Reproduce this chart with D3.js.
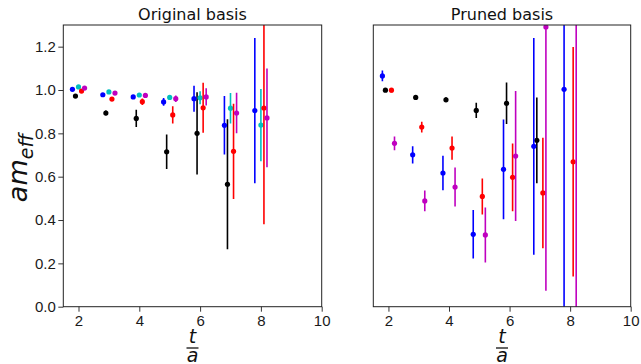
<!DOCTYPE html>
<html>
<head>
<meta charset="utf-8">
<script src="https://cdn.jsdelivr.net/npm/d3@7"></script>
<style>
  body { margin: 0; background: #fff; }
  svg { font-family: "DejaVu Sans", sans-serif; }
</style>
</head>
<body>
<div id="chart"></div>
<script>
const width = 641;
const height = 364;

// time slices
const tValues = [2, 3, 4, 5, 6, 7, 8];
const xTicks = [2, 4, 6, 8, 10];
const yTicks = [0.0, 0.2, 0.4, 0.6, 0.8, 1.0, 1.2];

// Original basis
const origBlue = [1.003, 0.978, 0.968, 0.945, 0.960, 0.837, 0.905];
const origBlueErr = [0.005, 0.005, 0.006, 0.018, 0.06, 0.135, 0.335];
const origBlack = [0.972, 0.894, 0.869, 0.715, 0.800, 0.565, null];
const origBlackErr = [0.008, 0.012, 0.04, 0.08, 0.19, 0.30, null];
const origCyan = [1.014, 0.991, 0.977, 0.966, 0.964, 0.916, 0.838];
const origCyanErr = [0.004, 0.004, 0.005, 0.006, 0.03, 0.07, 0.167];
const origRed = [0.995, 0.958, 0.946, 0.885, 0.918, 0.717, 0.917];
const origRedErr = [0.005, 0.006, 0.015, 0.04, 0.115, 0.22, 0.537];
const origMagenta = [1.009, 0.986, 0.975, 0.960, 0.968, 0.894, 0.871];
const origMagentaErr = [0.004, 0.005, 0.007, 0.015, 0.04, 0.093, 0.228];

// Pruned basis
const prunBlue = [1.065, 0.701, 0.617, 0.334, 0.634, 0.740, 1.003];
const prunBlueErr = [0.025, 0.04, 0.08, 0.112, 0.23, 0.50, 1.2];
const prunBlack = [0.999, 0.966, 0.955, 0.906, 0.939, 0.768, null];
const prunBlackErr = [0.006, 0.008, 0.012, 0.035, 0.096, 0.198, null];
const prunRed = [0.999, 0.829, 0.732, 0.509, 0.597, 0.525, 0.669];
const prunRedErr = [0.01, 0.025, 0.054, 0.083, 0.156, 0.255, 0.53];
const prunMagenta = [0.754, 0.488, 0.552, 0.331, 0.695, 1.291, 1.45];
const prunMagentaErr = [0.032, 0.048, 0.09, 0.127, 0.30, 1.217, 1.6];

const panels = [
    {
        title: "Original basis", left: 63.3, right: 321.7, showY: true,
        series: [
            { color: "#000000", dx: -0.1, y: origBlack, e: origBlackErr },
            { color: "#0000ff", dx: -0.2, y: origBlue, e: origBlueErr },
            { color: "#00bfbf", dx: 0.0, y: origCyan, e: origCyanErr },
            { color: "#ff0000", dx: 0.1, y: origRed, e: origRedErr },
            { color: "#bf00bf", dx: 0.2, y: origMagenta, e: origMagentaErr }
        ]
    },
    {
        title: "Pruned basis", left: 373.3, right: 630.7, showY: false,
        series: [
            { color: "#000000", dx: -0.1, y: prunBlack, e: prunBlackErr },
            { color: "#0000ff", dx: -0.2, y: prunBlue, e: prunBlueErr },
            { color: "#ff0000", dx: 0.1, y: prunRed, e: prunRedErr },
            { color: "#bf00bf", dx: 0.2, y: prunMagenta, e: prunMagentaErr }
        ]
    }
];

const plotTop = 25;
const plotBottom = 306.7;

const svg = d3.select("#chart").append("svg")
    .attr("width", width)
    .attr("height", height);

const y = d3.scaleLinear().domain([0, 1.3]).range([plotBottom, plotTop]);

panels.forEach((p, i) => {
    const x = d3.scaleLinear().domain([1.5, 10]).range([p.left, p.right]);
    const g = svg.append("g");

    const clipId = "clip" + i;
    svg.append("clipPath").attr("id", clipId)
        .append("rect")
        .attr("x", p.left).attr("y", plotTop)
        .attr("width", p.right - p.left).attr("height", plotBottom - plotTop);

    const marks = g.append("g").attr("clip-path", `url(#${clipId})`);

    p.series.forEach(s => {
        const pts = tValues.map((t, k) => ({ t: t + s.dx, v: s.y[k], e: s.e[k] }))
            .filter(d => d.v !== null);
        marks.selectAll(null)
            .data(pts)
            .enter().append("line")
            .attr("x1", d => x(d.t)).attr("x2", d => x(d.t))
            .attr("y1", d => y(d.v - d.e)).attr("y2", d => y(d.v + d.e))
            .attr("stroke", s.color)
            .attr("stroke-width", 1.6);
        marks.selectAll(null)
            .data(pts)
            .enter().append("circle")
            .attr("cx", d => x(d.t)).attr("cy", d => y(d.v))
            .attr("r", 2.6)
            .attr("fill", s.color);
    });

    // x axis
    const xAxis = g.append("g")
        .attr("transform", `translate(0,${plotBottom})`)
        .call(d3.axisBottom(x).tickValues(xTicks).tickFormat(d3.format("d")).tickSize(5).tickSizeOuter(0));
    xAxis.select(".domain").remove();
    xAxis.selectAll("line").attr("stroke", "#000").attr("stroke-width", 0.8);
    xAxis.selectAll("text").attr("font-size", 15).attr("fill", "#1a1a1a").attr("y", 8).attr("dy", "0.75em");

    if (p.showY) {
        const yAxis = g.append("g")
            .attr("transform", `translate(${p.left},0)`)
            .call(d3.axisLeft(y).tickValues(yTicks).tickFormat(d3.format(".1f")).tickSize(5));
        yAxis.select(".domain").remove();
        yAxis.selectAll("line").attr("stroke", "#000").attr("stroke-width", 0.8);
        yAxis.selectAll("text").attr("font-size", 15).attr("fill", "#1a1a1a").attr("x", -7.5);
    }

    // frame
    g.append("rect")
        .attr("x", p.left).attr("y", plotTop)
        .attr("width", p.right - p.left).attr("height", plotBottom - plotTop)
        .attr("fill", "none").attr("stroke", "#222").attr("stroke-width", 1);

    const cx = (p.left + p.right) / 2;
    g.append("text")
        .attr("x", cx).attr("y", 20)
        .attr("text-anchor", "middle")
        .attr("font-size", 16)
        .attr("fill", "#111")
        .text(p.title);

    // t / a fraction label
    const lab = g.append("g").attr("font-style", "italic").attr("font-size", 19).attr("fill", "#111");
    lab.append("text").attr("x", cx).attr("y", 343).attr("text-anchor", "middle").text("t");
    g.append("line")
        .attr("x1", cx - 6).attr("x2", cx + 6)
        .attr("y1", 348).attr("y2", 348)
        .attr("stroke", "#111").attr("stroke-width", 1.3);
    lab.append("text").attr("x", cx).attr("y", 362).attr("text-anchor", "middle").text("a");
});

// y label: am_eff
const yl = svg.append("text")
    .attr("transform", `translate(27,168) rotate(-90)`)
    .attr("text-anchor", "middle")
    .attr("font-style", "italic")
    .attr("fill", "#111");
yl.append("tspan").attr("font-size", 27).text("am");
yl.append("tspan").attr("font-size", 19).attr("dy", 6).text("eff");
</script>
</body>
</html>
